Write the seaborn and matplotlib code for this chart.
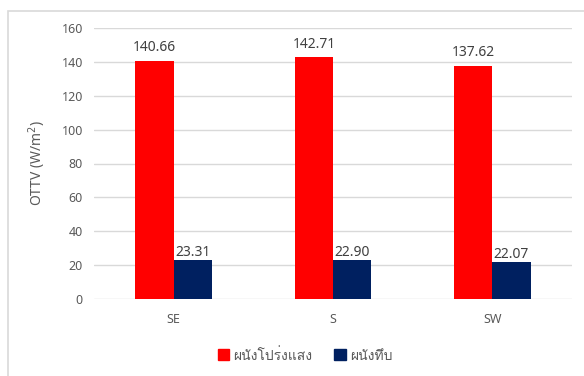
import matplotlib
matplotlib.use("Agg")
import matplotlib.pyplot as plt
import matplotlib.patches as mpatches
from matplotlib import font_manager
from fontTools.ttLib import TTFont
import seaborn as sns
import pandas as pd

# OTTV by wall orientation
orientations = ["SE", "S", "SW"]
series_names = ["ผนังโปร่งแสง", "ผนังทึบ"]
translucent_wall = [140.66, 142.71, 137.62]
opaque_wall = [23.31, 22.90, 22.07]
y_ticks = [0, 20, 40, 60, 80, 100, 120, 140, 160]

colors = {"ผนังโปร่งแสง": "#ff0000", "ผนังทึบ": "#002060"}


def thai_families():
    """Installed font families that cover the Thai block."""
    found = []
    for entry in font_manager.fontManager.ttflist:
        if entry.name in found:
            continue
        try:
            font = TTFont(entry.fname, fontNumber=0, lazy=True)
            cmap = font.getBestCmap() or {}
        except Exception:
            continue
        if all(ord(ch) in cmap for ch in "ผนังโปร่งแสงทึบ"):
            found.append(entry.name)
    return found


df = pd.DataFrame({
    "orientation": orientations * 2,
    "wall": [series_names[0]] * 3 + [series_names[1]] * 3,
    "ottv": translucent_wall + opaque_wall,
})

sns.set_style("white")
thai = thai_families()
plt.rcParams["font.family"] = ["Noto Sans"] + thai + ["DejaVu Sans"]
text_color = "#595959"

fig = plt.figure(figsize=(5.84, 3.76), dpi=100)
ax = fig.add_axes([94 / 584, 1 - 299 / 376, 478 / 584, 271 / 376])

sns.barplot(data=df, x="orientation", y="ottv", hue="wall", order=orientations,
            hue_order=series_names, palette=colors, width=0.48, saturation=1,
            errorbar=None, ax=ax, legend=False, zorder=3, linewidth=0)

for container, pad in zip(ax.containers, [4, 0]):
    ax.bar_label(container, fmt="%.2f", padding=pad, fontsize=10, color="#404040")

ax.set_ylim(0, 160)
ax.set_yticks(y_ticks)
ax.set_xlim(-0.5, 2.5)
ax.yaxis.grid(True, color="#d9d9d9", linewidth=1, zorder=0)
ax.set_axisbelow(True)
for side in ["top", "right", "left", "bottom"]:
    ax.spines[side].set_visible(False)
ax.tick_params(axis="both", length=0, labelsize=9, colors=text_color, pad=8)
ax.tick_params(axis="x", pad=10)
ax.set_xlabel("")
ax.set_ylabel("OTTV (W/m$^2$)", fontsize=10, color=text_color, labelpad=10)

handles = [mpatches.Patch(color=colors[n], label=n) for n in series_names]
fig.legend(handles=handles, loc="center", bbox_to_anchor=(305 / 584, 1 - 356 / 376),
           ncol=2, frameon=False, fontsize=10, handlelength=0.8, handleheight=0.8,
           handletextpad=0.3, columnspacing=1.6, labelcolor=text_color)

# chart frame
fig.patches.append(mpatches.Rectangle((7.5 / 584, -0.1), 1.2, (1 - 10.5 / 376) + 0.1,
                                      transform=fig.transFigure, fill=False,
                                      edgecolor="#d9d9d9", linewidth=1.2))

fig.savefig("out.png", dpi=100)
